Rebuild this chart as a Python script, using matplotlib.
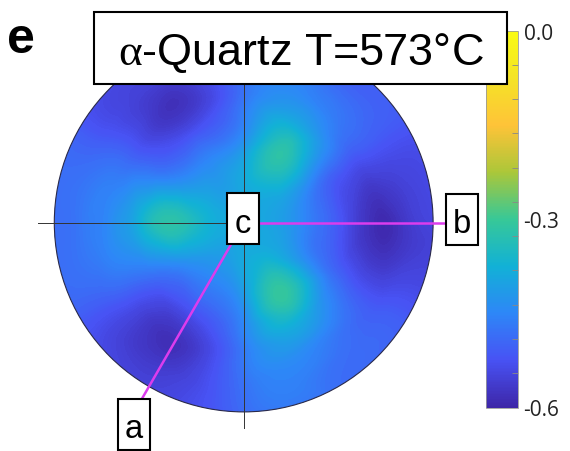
import numpy as np
import matplotlib
matplotlib.use("Agg")
import matplotlib.pyplot as plt
import matplotlib.tri as mtri
from matplotlib.colors import LinearSegmentedColormap, Normalize
from matplotlib.cm import ScalarMappable
from matplotlib.patches import Circle, Rectangle

plt.rcParams['axes.unicode_minus'] = False
plt.rcParams['mathtext.fontset'] = 'custom'
plt.rcParams['mathtext.rm'] = 'Liberation Serif'

# pole figure samples: rings of radius r, angle measured ccw from the b axis (deg)
theta_deg = [0, 30, 60, 90, 120, 150, 180, 210, 240, 270, 300, 330]
radii = [0.2, 0.4, 0.55, 0.7, 0.85, 1.06]
center_val = -0.39
ring_r02 = [-0.41, -0.40, -0.38, -0.39, -0.41, -0.39, -0.37, -0.39, -0.41, -0.39, -0.38, -0.40]
ring_r04 = [-0.48, -0.45, -0.32, -0.42, -0.46, -0.43, -0.32, -0.43, -0.47, -0.42, -0.31, -0.45]
ring_r055 = [-0.54, -0.50, -0.37, -0.46, -0.53, -0.48, -0.38, -0.48, -0.53, -0.45, -0.36, -0.49]
ring_r07 = [-0.59, -0.52, -0.44, -0.48, -0.58, -0.50, -0.44, -0.50, -0.58, -0.47, -0.43, -0.52]
ring_r085 = [-0.57, -0.52, -0.48, -0.50, -0.56, -0.51, -0.47, -0.51, -0.57, -0.48, -0.47, -0.52]
ring_rim = [-0.54, -0.52, -0.50, -0.50, -0.53, -0.51, -0.49, -0.51, -0.54, -0.50, -0.49, -0.52]

cbar_ticks = [0.0, -0.3, -0.6]
cbar_labels = ["0.0", "-0.3", "-0.6"]
title = r"$\mathrm{\alpha}$-Quartz T=573°C"
axis_labels = ["c", "b", "a"]

parula = LinearSegmentedColormap.from_list("parula", [
    (0.2422, 0.1504, 0.6603), (0.2810, 0.3228, 0.9579), (0.1786, 0.5289, 0.9682),
    (0.0689, 0.6948, 0.8394), (0.2161, 0.7843, 0.5923), (0.6720, 0.7793, 0.2227),
    (0.9970, 0.7659, 0.2199), (0.9600, 0.8900, 0.1500), (0.9769, 0.9839, 0.0805)])

W, H = 570, 452
cx, cy, R = 243.7, 223.5, 189.4   # circle centre / radius in pixels


def px(x, y):
    return (x - cx) / R, (cy - y) / R


fig = plt.figure(figsize=(W / 100, H / 100), dpi=100)
ax = fig.add_axes([0, 0, 1, 1])
ax.set_xlim(px(0, 0)[0], px(W, 0)[0])
ax.set_ylim(px(0, H)[1], px(0, 0)[1])
ax.axis('off')

# build the mesh from the rings
th = np.radians(theta_deg)
rings = [ring_r02, ring_r04, ring_r055, ring_r07, ring_r085, ring_rim]
xs, ys, zs = [0.0], [0.0], [center_val]
for r, vals in zip(radii, rings):
    xs += list(r * np.cos(th))
    ys += list(r * np.sin(th))
    zs += list(vals)
tri = mtri.Triangulation(xs, ys)
refiner = mtri.UniformTriRefiner(tri)
tri_f, z_f = refiner.refine_field(np.array(zs), subdiv=5)

norm = Normalize(-0.6, 0.0)
cs = ax.tricontourf(tri_f, z_f, levels=np.linspace(-0.6, 0, 181), cmap=parula,
                    norm=norm, extend='both')
clip = Circle((0, 0), 1, transform=ax.transData)
cs.set_clip_path(clip)

ax.add_patch(Circle((0, 0), 1, fill=False, ec='#2a2a4a', lw=0.8, zorder=3))

# crosshair
x0, _ = px(38, 0)
_, y1 = px(0, 429)
ax.plot([x0, 1.0], [0, 0], color='#333333', lw=0.7, zorder=4)
ax.plot([0, 0], [y1, 1.1], color='#333333', lw=0.7, zorder=4)

# magenta axes to b and a
mag = '#dc3ced'
bx, _ = px(446, 0)
ax.plot([0, bx], [0, 0], color=mag, lw=1.8, zorder=5)
ra = 1.08
ax.plot([0, ra * np.cos(np.radians(240))], [0, ra * np.sin(np.radians(240))],
        color=mag, lw=1.8, zorder=5)

# label boxes (centre in pixels)
box_centres = [(243.0, 219.7), (462.0, 220.0), (133.7, 425.5)]
bw, bh = 32 / R, 51 / R
for lab, (bxp, byp) in zip(axis_labels, box_centres):
    xc, yc = px(bxp, byp)
    ax.add_patch(Rectangle((xc - bw / 2, yc - bh / 2), bw, bh, fc='white',
                           ec='black', lw=1.5, zorder=6))
    ax.text(xc, yc - 13 / R, lab, ha='center', va='baseline', fontsize=23.5,
            family='Liberation Sans', zorder=7)

# colorbar
cax = fig.add_axes([486 / W, (H - 408.5) / H, 32 / W, (408.5 - 31.7) / H])
cb = fig.colorbar(ScalarMappable(norm=norm, cmap=parula), cax=cax)
cb.outline.set_edgecolor('#999999')
cb.outline.set_linewidth(0.6)
cb.set_ticks(cbar_ticks)
cb.set_ticklabels(cbar_labels)
cax.yaxis.set_ticks(np.linspace(-0.6, 0, 12), minor=True)
cax.tick_params(which='major', length=0, pad=4, labelsize=15, labelcolor='#222222')
cax.tick_params(which='minor', direction='in', length=4, width=0.6, color='#888888')
for t in cax.get_yticklabels():
    t.set_family('Open Sans')

# title box on top of everything
fig.patches.append(Rectangle((94.3 / W, (H - 85) / H), 412.7 / W, 72.3 / H,
                             transform=fig.transFigure, fc='white', ec='black',
                             lw=1.5, zorder=10))
fig.text(301 / W, (H - 65) / H, title, ha='center', va='baseline', fontsize=32.5,
         family='Liberation Sans', zorder=11)
fig.text(21 / W, (H - 53) / H, "e", ha='center', va='baseline', fontsize=36,
         fontweight='bold', family='Liberation Sans', zorder=11)

fig.savefig("out.png", dpi=100)
